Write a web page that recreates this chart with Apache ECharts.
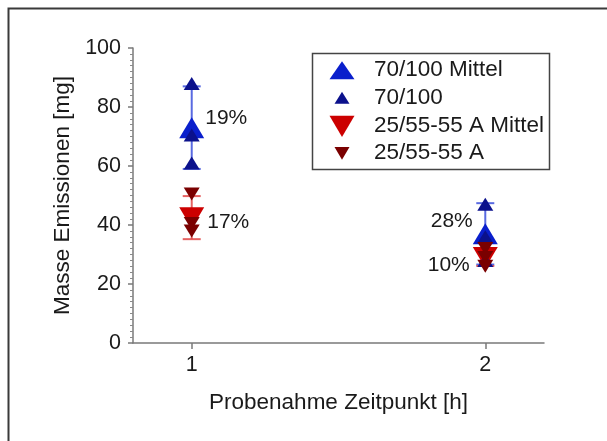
<!DOCTYPE html>
<html><head><meta charset="utf-8">
<script src="https://cdn.jsdelivr.net/npm/echarts@6/dist/echarts.min.js"></script>
<style>html,body{margin:0;padding:0;background:#fff}#c{width:607px;height:441px}</style>
</head><body><div id="c"></div>
<script>
// ---- data ----
var times = [1, 2];
var meanHigh = [73, 37];           // 70/100 Mittel
var sdHigh = [14, 10.4];
var cvHigh = ['19%', '28%'];
var indivHighT1 = [88, 70.5, 61];  // 70/100 at t=1
var indivHighT2 = [47, 36, 28];    // 70/100 at t=2
var meanLow = [42.5, 29];          // 25/55-55 A Mittel
var sdLow = [7.3, 2.9];
var cvLow = ['17%', '10%'];
var indivLowT1 = [50.5, 40.5, 38];
var indivLowT2 = [32, 29, 26];
var names = ['70/100 Mittel', '70/100', '25/55-55 A Mittel', '25/55-55 A'];
var yTicks = [0, 20, 40, 60, 80, 100];

var FONT = 'Liberation Sans, Arial, sans-serif';
var DOWN = 'path://M0,0L20,0L10,17Z';
var UP = 'triangle';

function pts(x, arr){ return arr.map(function(v){ return [x, v]; }); }
function errData(means, sds){ return times.map(function(t,i){ return [t, means[i]-sds[i], means[i]+sds[i]]; }); }

function errSeries(name, means, sds, color){
  return {
    type: 'custom', name: name + '_err', silent: true, z: 2,
    data: errData(means, sds),
    renderItem: function(params, api){
      var lo = api.coord([api.value(0), api.value(1)]);
      var hi = api.coord([api.value(0), api.value(2)]);
      var w = 9;
      var st = {stroke: color, lineWidth: 2};
      return {type: 'group', children: [
        {type: 'line', shape: {x1: lo[0], y1: lo[1], x2: hi[0], y2: hi[1]}, style: st},
        {type: 'line', shape: {x1: lo[0]-w, y1: lo[1], x2: lo[0]+w, y2: lo[1]}, style: st},
        {type: 'line', shape: {x1: hi[0]-w, y1: hi[1], x2: hi[0]+w, y2: hi[1]}, style: st}
      ]};
    }
  };
}

function meanData(means, cvs, cfg){
  return times.map(function(t,i){
    return {value: [t, means[i]], label: {show: true, formatter: cvs[i], position: cfg[i].pos, distance: cfg[i].dist, offset: cfg[i].off}};
  });
}

var labelStyle = {color: '#1a1a1a', fontSize: 21, fontFamily: FONT};

var chart = echarts.init(document.getElementById('c'), null, {renderer: 'canvas'});
var LFS = 22.5;
var legendCenter = [70, 97.5, 126, 153];
var legendIcons = [
  {icon: UP, w: 25, h: 18, c: '#0a1fcc'},
  {icon: UP, w: 15, h: 12, c: '#0b118c'},
  {icon: DOWN, w: 25, h: 22, c: '#cc0000'},
  {icon: DOWN, w: 15, h: 13, c: '#7a0000'}
];
var legends = names.map(function(n, i){
  var L = legendIcons[i];
  var H = Math.max(L.h, LFS);
  return {
    data: [{name: n, icon: L.icon}],
    left: 342 - L.w/2, top: legendCenter[i] - H/2,
    itemWidth: L.w, itemHeight: L.h, padding: 0, selectedMode: false,
    textStyle: {color: '#1a1a1a', fontSize: LFS, fontFamily: FONT, padding: [0,0,0, 374 - (342 + L.w/2) - 5]}
  };
});

chart.setOption({
  animation: false,
  backgroundColor: '#fff',
  textStyle: {fontFamily: FONT},
  grid: {left: 133, right: 63, top: 48, bottom: 98},
  legend: legends,
  graphic: [
    {type: 'rect', shape: {x: 8.5, y: 8.5, width: 640, height: 480}, style: {fill: 'none', stroke: '#3a3a3a', lineWidth: 2}, z: 100},
    {type: 'rect', shape: {x: 312.5, y: 53.5, width: 237, height: 116}, style: {fill: 'none', stroke: '#444', lineWidth: 1.5}, z: 100}
  ],
  xAxis: {
    type: 'value', min: 0.8, max: 2.2,
    name: 'Probenahme Zeitpunkt [h]', nameLocation: 'middle', nameGap: 48,
    nameTextStyle: {color: '#1a1a1a', fontSize: 22.5, fontFamily: FONT},
    axisLine: {onZero: false, lineStyle: {color: '#7a7a7a', width: 1.5}},
    axisTick: {show: true, customValues: times, length: 6, lineStyle: {color: '#7a7a7a', width: 1.5}},
    axisLabel: {customValues: times, color: '#1a1a1a', fontSize: 21.5, fontFamily: FONT, margin: 11},
    splitLine: {show: false}
  },
  yAxis: {
    type: 'value', min: 0, max: 100, interval: 20,
    name: 'Masse Emissionen [mg]', nameLocation: 'middle', nameGap: 50, nameRotate: 90,
    nameTextStyle: {color: '#1a1a1a', fontSize: 22.5, fontFamily: FONT},
    axisLine: {show: true, lineStyle: {color: '#7a7a7a', width: 1.5}},
    axisTick: {show: true, length: 5, lineStyle: {color: '#7a7a7a', width: 1.5}},
    minorTick: {show: true, splitNumber: 10, length: 3, lineStyle: {color: '#8a8a8a', width: 1}},
    axisLabel: {color: '#1a1a1a', fontSize: 21.5, fontFamily: FONT, margin: 12,
      formatter: function(v){ return yTicks.indexOf(v) >= 0 ? String(v) : ''; }},
    splitLine: {show: false}
  },
  series: [
    errSeries('high', meanHigh, sdHigh, 'rgba(60,80,220,0.85)'),
    errSeries('low', meanLow, sdLow, 'rgba(225,70,70,0.85)'),
    {
      type: 'scatter', name: names[0], symbol: UP, symbolSize: [25, 21], z: 3,
      itemStyle: {color: '#0a1fcc', opacity: 1},
      label: labelStyle,
      data: meanData(meanHigh, cvHigh, [
        {pos: 'right', dist: 1, off: [0, -9]},
        {pos: 'left', dist: 0, off: [0, -13]}
      ])
    },
    {
      type: 'scatter', name: names[2], symbol: DOWN, symbolSize: [25, 21], z: 3,
      itemStyle: {color: '#cc0000', opacity: 1},
      label: labelStyle,
      data: meanData(meanLow, cvLow, [
        {pos: 'right', dist: 3, off: [0, 5]},
        {pos: 'left', dist: 3, off: [0, 8]}
      ])
    },
    {
      type: 'scatter', name: names[1], symbol: UP, symbolSize: [16, 13], z: 4,
      itemStyle: {color: '#0b118c', opacity: 1},
      data: pts(times[0], indivHighT1).concat(pts(times[1], indivHighT2))
    },
    {
      type: 'scatter', name: names[3], symbol: DOWN, symbolSize: [16, 13], z: 4,
      itemStyle: {color: '#7a0000', opacity: 1},
      data: pts(times[0], indivLowT1).concat(pts(times[1], indivLowT2))
    }
  ]
});
</script></body></html>
